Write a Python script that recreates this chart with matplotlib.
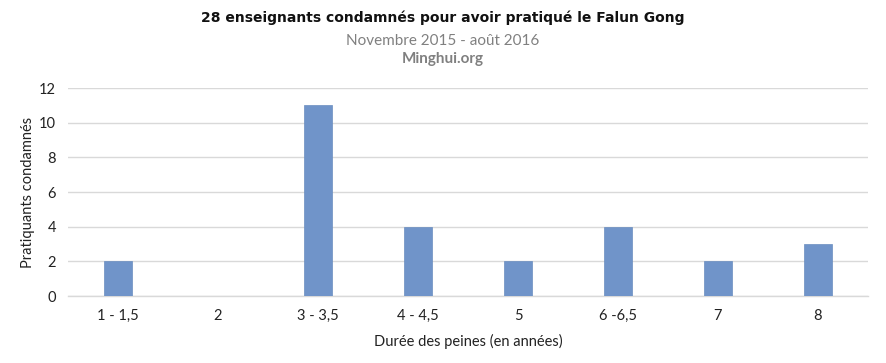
import matplotlib
matplotlib.use("Agg")
import matplotlib.pyplot as plt

categories = ["1 - 1,5", "2", "3 - 3,5", "4 - 4,5", "5", "6 -6,5", "7", "8"]
values = [2, 0, 11, 4, 2, 4, 2, 3]
yticks = [0, 2, 4, 6, 8, 10, 12]

title = "28 enseignants condamnés pour avoir pratiqué le Falun Gong"
subtitle = "Novembre 2015 - août 2016"
source = "Minghui.org"
xlabel = "Durée des peines (en années)"
ylabel = "Pratiquants condamnés"

body_font = ["Lato", "DejaVu Sans"]

fig = plt.figure(figsize=(8.86, 3.63), dpi=100)
ax = fig.add_axes([68/886, 1-296/363, 800/886, (296-88)/363])

x = list(range(len(categories)))
ax.bar(x, values, width=0.28, color="#7094C9", edgecolor="#6A8DC0", linewidth=0.5, zorder=3)

ax.set_xlim(-0.5, len(categories)-0.5)
ax.set_ylim(0, 12)
ax.set_yticks(yticks)
ax.set_yticklabels([str(v) for v in yticks], fontfamily=body_font, fontsize=10.5)
ax.set_xticks(x)
ax.set_xticklabels(categories, fontfamily=body_font, fontsize=10.5)
ax.tick_params(axis="x", length=0, pad=9, colors="#222222")
ax.tick_params(axis="y", length=0, pad=8.5, colors="#222222")
ax.grid(axis="y", color="#D9D9D9", linewidth=1, zorder=0)
for s in ["top", "right", "left"]:
    ax.spines[s].set_visible(False)
ax.spines["bottom"].set_color("#D9D9D9")
ax.spines["bottom"].set_linewidth(1)

ax.set_xlabel(xlabel, fontfamily=body_font, fontsize=10.5, labelpad=8, color="#222222")
ax.set_ylabel(ylabel, fontfamily=body_font, fontsize=10.5, color="#222222")
ax.yaxis.set_label_coords((35-68)/800, 0.5)

fig.text(443/886, 1-18/363, title, ha="center", va="center", fontsize=10, fontweight="bold",
         fontfamily="DejaVu Sans", color="#111111")
fig.text(443/886, 1-41/363, subtitle, ha="center", va="center", fontsize=11,
         fontfamily=body_font, color="#808080")
fig.text(443/886, 1-59/363, source, ha="center", va="center", fontsize=11, fontweight="bold",
         fontfamily=body_font, color="#808080")

fig.savefig("out.png", dpi=100)
